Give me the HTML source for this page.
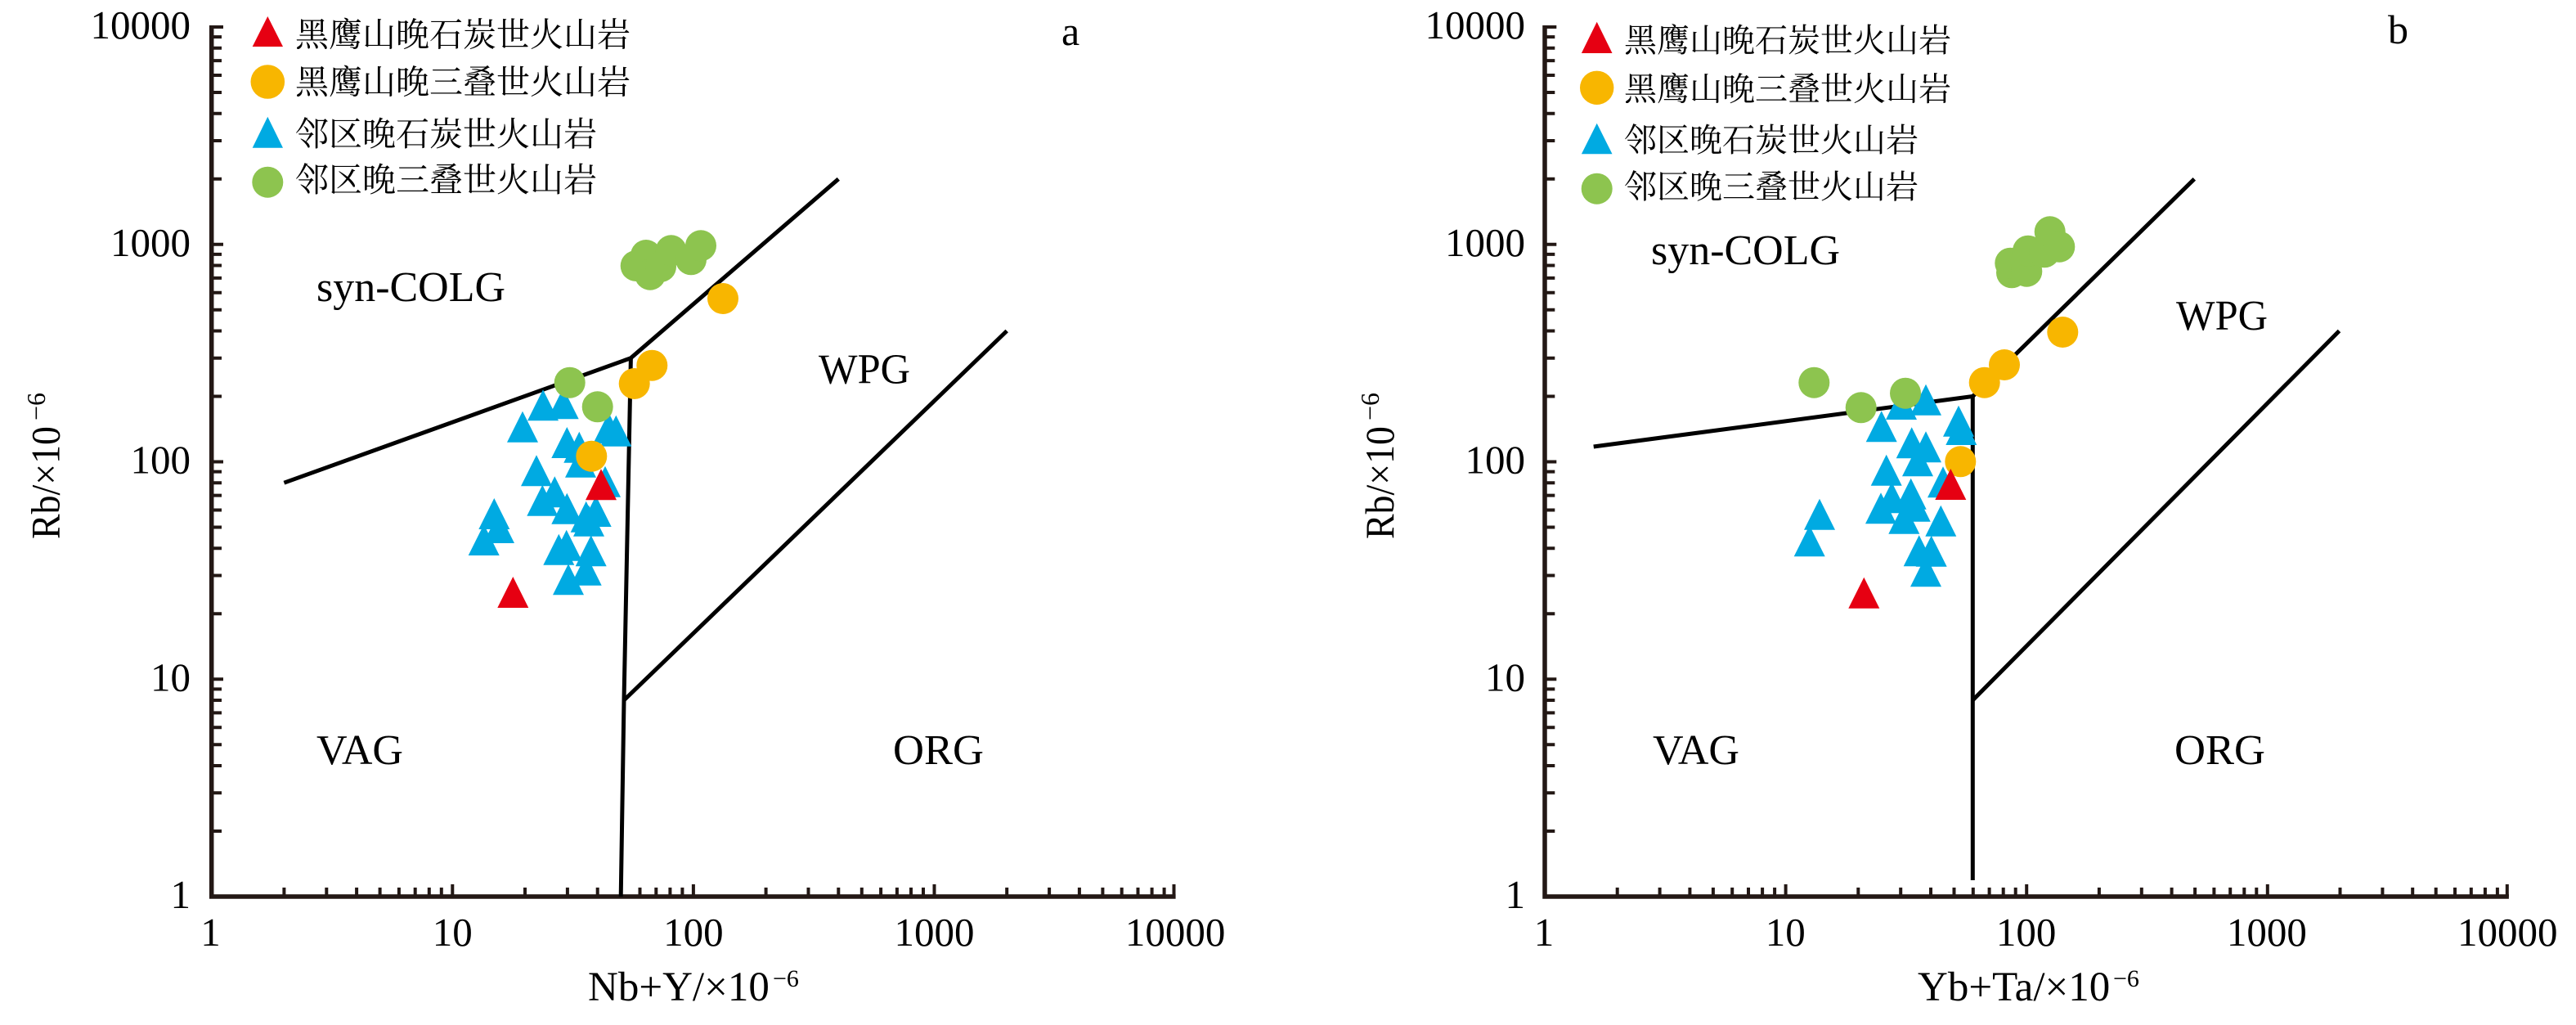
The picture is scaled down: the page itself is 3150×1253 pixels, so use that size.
<!DOCTYPE html>
<html>
<head>
<meta charset="utf-8">
<style>
html,body{margin:0;padding:0;background:#fff;}
svg{display:block;}
.t{font-family:"Liberation Serif","Noto Serif CJK SC",serif;fill:#000;}
.cjk{font-family:"Liberation Serif","Noto Serif CJK SC","Noto Sans CJK SC",serif;fill:#000;}
</style>
</head>
<body>
<svg width="3150" height="1253" viewBox="0 0 3150 1253" xmlns="http://www.w3.org/2000/svg">
<rect width="3150" height="1253" fill="#fff"/>

<!-- ===================== AXES (plot a) ===================== -->
<g stroke="#231815" fill="none">
  <path d="M258.7,31 V1096 H1437.6" stroke-width="5.5" stroke-linejoin="miter"/>
  <path stroke-width="4" d="
  M258.7,1016H271 M258.7,969.2H271 M258.7,936H271 M258.7,910.25H271 M258.7,889.2H271 M258.7,871.4H271 M258.7,856H271 M258.7,842.4H271 M258.7,830.25H273
  M258.7,750.25H271 M258.7,703.45H271 M258.7,670.25H271 M258.7,644.5H271 M258.7,623.45H271 M258.7,605.65H271 M258.7,590.25H271 M258.7,576.65H271 M258.7,564.5H273
  M258.7,484.5H271 M258.7,437.7H271 M258.7,404.5H271 M258.7,378.75H271 M258.7,357.7H271 M258.7,339.9H271 M258.7,324.5H271 M258.7,310.9H271 M258.7,298.75H273
  M258.7,218.75H271 M258.7,171.95H271 M258.7,138.75H271 M258.7,113H271 M258.7,91.95H271 M258.7,74.15H271 M258.7,58.75H271 M258.7,45.15H271 M258.7,33H273"/>
  <path stroke-width="4" d="
  M347.4,1096V1085 M399.3,1096V1085 M436.1,1096V1085 M464.6,1096V1085 M487.9,1096V1085 M507.7,1096V1085 M524.8,1096V1085 M539.8,1096V1085 M553.3,1096V1081
  M642,1096V1085 M693.9,1096V1085 M730.7,1096V1085 M759.2,1096V1085 M782.5,1096V1085 M802.3,1096V1085 M819.4,1096V1085 M834.4,1096V1085 M847.9,1096V1081
  M936.6,1096V1085 M988.5,1096V1085 M1025.3,1096V1085 M1053.8,1096V1085 M1077.1,1096V1085 M1096.9,1096V1085 M1114,1096V1085 M1129,1096V1085 M1142.5,1096V1081
  M1231.2,1096V1085 M1283.1,1096V1085 M1319.9,1096V1085 M1348.4,1096V1085 M1371.7,1096V1085 M1391.5,1096V1085 M1408.6,1096V1085 M1423.6,1096V1085 M1435.5,1096V1081"/>
</g>

<!-- ===================== AXES (plot b) ===================== -->
<g transform="translate(1630.3,0)" stroke="#231815" fill="none">
  <path d="M258.7,31 V1096 H1437.6" stroke-width="5.5" stroke-linejoin="miter"/>
  <path stroke-width="4" d="
  M258.7,1016H271 M258.7,969.2H271 M258.7,936H271 M258.7,910.25H271 M258.7,889.2H271 M258.7,871.4H271 M258.7,856H271 M258.7,842.4H271 M258.7,830.25H273
  M258.7,750.25H271 M258.7,703.45H271 M258.7,670.25H271 M258.7,644.5H271 M258.7,623.45H271 M258.7,605.65H271 M258.7,590.25H271 M258.7,576.65H271 M258.7,564.5H273
  M258.7,484.5H271 M258.7,437.7H271 M258.7,404.5H271 M258.7,378.75H271 M258.7,357.7H271 M258.7,339.9H271 M258.7,324.5H271 M258.7,310.9H271 M258.7,298.75H273
  M258.7,218.75H271 M258.7,171.95H271 M258.7,138.75H271 M258.7,113H271 M258.7,91.95H271 M258.7,74.15H271 M258.7,58.75H271 M258.7,45.15H271 M258.7,33H273"/>
  <path stroke-width="4" d="
  M347.4,1096V1085 M399.3,1096V1085 M436.1,1096V1085 M464.6,1096V1085 M487.9,1096V1085 M507.7,1096V1085 M524.8,1096V1085 M539.8,1096V1085 M553.3,1096V1081
  M642,1096V1085 M693.9,1096V1085 M730.7,1096V1085 M759.2,1096V1085 M782.5,1096V1085 M802.3,1096V1085 M819.4,1096V1085 M834.4,1096V1085 M847.9,1096V1081
  M936.6,1096V1085 M988.5,1096V1085 M1025.3,1096V1085 M1053.8,1096V1085 M1077.1,1096V1085 M1096.9,1096V1085 M1114,1096V1085 M1129,1096V1085 M1142.5,1096V1081
  M1231.2,1096V1085 M1283.1,1096V1085 M1319.9,1096V1085 M1348.4,1096V1085 M1371.7,1096V1085 M1391.5,1096V1085 M1408.6,1096V1085 M1423.6,1096V1085 M1435.5,1096V1081"/>
</g>

<!-- ===================== BOUNDARY LINES ===================== -->
<g stroke="#000" stroke-width="5" fill="none" stroke-linejoin="miter">
  <path d="M347.4,590.2 L771.4,437.7 L1025.3,218.8"/>
  <path d="M771.4,437.7 L763,856 L759.2,1096"/>
  <path d="M763,856 L1231.2,404.5"/>
  <path d="M1948.7,546 L2412.3,484.5 L2683.3,218.8"/>
  <path d="M2412.3,484.5 V1076"/>
  <path d="M2412.3,856 L2860.5,404.5"/>
</g>

<!-- ===================== DATA plot a ===================== -->
<path fill="#00AAE2" d="
M664,476.3l19,38h-38z M688.7,474.3l19,38h-38z M639,502.7l19,38h-38z M744.3,504.3l19,38h-38z
M753.3,507.7l19,38h-38z M693.3,522l19,38h-38z M708.3,527.7l19,38h-38z M710,545.7l19,38h-38z
M656,556.3l19,38h-38z M740,569.7l19,38h-38z M663.3,592.7l19,38h-38z M678.3,582.3l19,38h-38z
M693.3,602.7l19,38h-38z M716.7,612.7l19,38h-38z M728.7,606l19,38h-38z M720,617.7l19,38h-38z
M604.3,609l19,38h-38z M610,626l19,38h-38z M591.7,641l19,38h-38z M683.3,652.7l19,38h-38z
M692.7,647.7l19,38h-38z M722.7,654.3l19,38h-38z M695,689.3l19,38h-38z M716.7,677.7l19,38h-38z"/>
<path fill="#E60012" d="M735,573.3l19,38h-38z M627.3,705l19,38h-38z"/>
<g fill="#F8B600">
  <circle cx="884" cy="365" r="19"/>
  <circle cx="797.3" cy="446.7" r="19"/>
  <circle cx="775.7" cy="469" r="19"/>
  <circle cx="723.3" cy="557.7" r="19"/>
</g>
<g fill="#8DC44F">
  <circle cx="696.7" cy="467.7" r="19"/>
  <circle cx="730.7" cy="497.3" r="19"/>
  <circle cx="777.7" cy="325" r="19"/>
  <circle cx="790" cy="312" r="19"/>
  <circle cx="795" cy="335.7" r="19"/>
  <circle cx="808" cy="326" r="19"/>
  <circle cx="820.7" cy="306.3" r="19"/>
  <circle cx="845" cy="317.3" r="19"/>
  <circle cx="857" cy="300.3" r="19"/>
</g>

<!-- ===================== DATA plot b ===================== -->
<path fill="#00AAE2" d="
M2325,475l19,38h-38z M2355,469.7l19,38h-38z M2395,495.7l19,38h-38z M2398.3,506l19,38h-38z
M2300.7,502.3l19,38h-38z M2337.7,522.3l19,38h-38z M2355,527.3l19,38h-38z M2345,544.3l19,38h-38z
M2306.7,555.7l19,38h-38z M2376,570.3l19,38h-38z M2300,602.3l19,38h-38z M2313.3,589.3l19,38h-38z
M2336.7,584.7l19,38h-38z M2328.3,614.7l19,38h-38z M2341.7,599.7l19,38h-38z M2373.3,617.7l19,38h-38z
M2225,609.7l19,38h-38z M2212.7,642.3l19,38h-38z M2346.7,654.3l19,38h-38z M2361.7,654.7l19,38h-38z
M2355,679.3l19,38h-38z"/>
<g fill="#F8B600">
  <circle cx="2522.3" cy="406" r="19"/>
  <circle cx="2451" cy="446" r="19"/>
  <circle cx="2426.7" cy="467.7" r="19"/>
  <circle cx="2397.3" cy="564.3" r="19"/>
</g>
<path fill="#E60012" d="M2385.3,573l19,38h-38z M2279.3,705.7l19,38h-38z"/>
<g fill="#8DC44F">
  <circle cx="2218.3" cy="467.7" r="19"/>
  <circle cx="2275.7" cy="498.3" r="19"/>
  <circle cx="2330" cy="480.7" r="19"/>
  <circle cx="2460" cy="333.3" r="19"/>
  <circle cx="2458.3" cy="321.7" r="19"/>
  <circle cx="2478.3" cy="331.7" r="19"/>
  <circle cx="2480" cy="306.7" r="19"/>
  <circle cx="2500" cy="308.3" r="19"/>
  <circle cx="2506.7" cy="283.3" r="19"/>
  <circle cx="2518.3" cy="301.7" r="19"/>
</g>

<!-- ===================== LEGENDS ===================== -->
<path fill="#E60012" d="M327.3,20 L346,57 L308.7,57 Z"/>
<circle cx="327.3" cy="100" r="20.8" fill="#F8B600"/>
<path fill="#00AAE2" d="M327.3,142.7 L346,180.7 L308.7,180.7 Z"/>
<circle cx="327.3" cy="222.7" r="19" fill="#8DC44F"/>
<g class="cjk" font-size="41">
  <text x="361" y="56.6">黑鹰山晚石炭世火山岩</text>
  <text x="361" y="114.6">黑鹰山晚三叠世火山岩</text>
  <text x="361" y="178">邻区晚石炭世火山岩</text>
  <text x="361" y="234">邻区晚三叠世火山岩</text>
</g>

<path fill="#E60012" d="M1952.7,26.7 L1971.5,65 L1933.9,65 Z"/>
<circle cx="1952.7" cy="107.3" r="20.7" fill="#F8B600"/>
<path fill="#00AAE2" d="M1952.7,150.7 L1971.5,188.3 L1933.9,188.3 Z"/>
<circle cx="1952.7" cy="230.7" r="19" fill="#8DC44F"/>
<g class="cjk" font-size="40">
  <text x="1986" y="63.2">黑鹰山晚石炭世火山岩</text>
  <text x="1986" y="122.7">黑鹰山晚三叠世火山岩</text>
  <text x="1986" y="185.2">邻区晚石炭世火山岩</text>
  <text x="1986" y="242.2">邻区晚三叠世火山岩</text>
</g>

<!-- ===================== TICK LABELS ===================== -->
<g class="t" font-size="49" text-anchor="end">
  <text x="233" y="47">10000</text>
  <text x="233" y="312.75">1000</text>
  <text x="233" y="578.5">100</text>
  <text x="233" y="844.25">10</text>
  <text x="233" y="1110">1</text>
  <text x="1865" y="47">10000</text>
  <text x="1865" y="312.75">1000</text>
  <text x="1865" y="578.5">100</text>
  <text x="1865" y="844.25">10</text>
  <text x="1865" y="1110">1</text>
</g>
<g class="t" font-size="49" text-anchor="middle">
  <text x="257.5" y="1156">1</text>
  <text x="553.3" y="1156">10</text>
  <text x="847.9" y="1156">100</text>
  <text x="1142.5" y="1156">1000</text>
  <text x="1437.1" y="1156">10000</text>
  <text x="1888" y="1156">1</text>
  <text x="2183.3" y="1156">10</text>
  <text x="2477.6" y="1156">100</text>
  <text x="2771.9" y="1156">1000</text>
  <text x="3066.2" y="1156">10000</text>
</g>

<!-- ===================== AXIS TITLES ===================== -->
<text class="t" font-size="51" x="719" y="1223">Nb+Y/×10</text>
<text class="t" font-size="30" x="945" y="1206">−6</text>
<text class="t" font-size="51" x="2345" y="1223">Yb+Ta/×10</text>
<text class="t" font-size="30" x="2584" y="1206">−6</text>

<text class="t" font-size="50" transform="translate(72.7,659) rotate(-90)" textLength="138" lengthAdjust="spacingAndGlyphs">Rb/×10</text>
<text class="t" font-size="32" transform="translate(55,514) rotate(-90)">−6</text>
<text class="t" font-size="50" transform="translate(1704,659) rotate(-90)" textLength="138" lengthAdjust="spacingAndGlyphs">Rb/×10</text>
<text class="t" font-size="32" transform="translate(1686,514) rotate(-90)">−6</text>

<!-- ===================== REGION LABELS ===================== -->
<g class="t" font-size="52">
  <text x="387" y="368" textLength="231" lengthAdjust="spacingAndGlyphs">syn-COLG</text>
  <text x="1001" y="468.5" textLength="112" lengthAdjust="spacingAndGlyphs">WPG</text>
  <text x="387" y="934" textLength="106" lengthAdjust="spacingAndGlyphs">VAG</text>
  <text x="1092" y="934" textLength="111" lengthAdjust="spacingAndGlyphs">ORG</text>
  <text x="2019" y="323" textLength="231" lengthAdjust="spacingAndGlyphs">syn-COLG</text>
  <text x="2661" y="403" textLength="112" lengthAdjust="spacingAndGlyphs">WPG</text>
  <text x="2021" y="934" textLength="106" lengthAdjust="spacingAndGlyphs">VAG</text>
  <text x="2659" y="934" textLength="111" lengthAdjust="spacingAndGlyphs">ORG</text>
</g>
<text class="t" font-size="50" x="1298" y="55">a</text>
<text class="t" font-size="50" x="2920" y="53">b</text>
</svg>
</body>
</html>
